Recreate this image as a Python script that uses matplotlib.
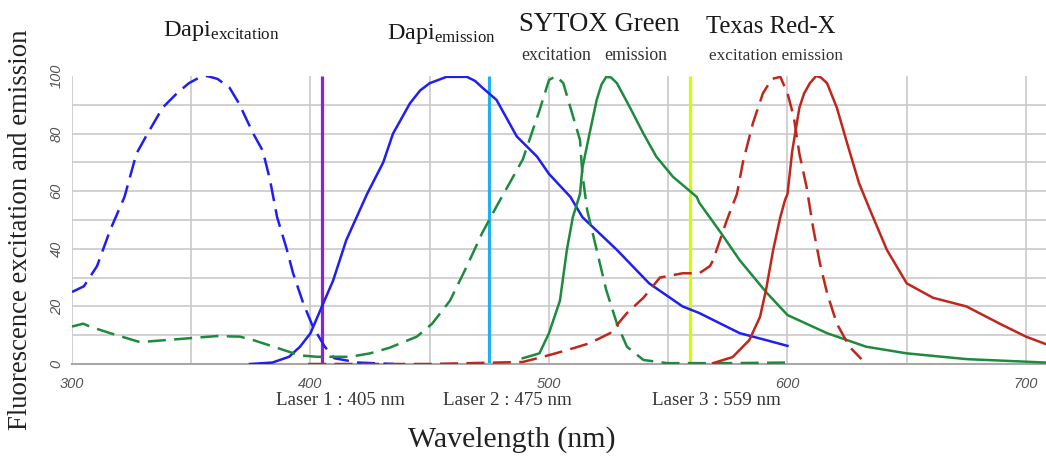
import numpy as np
import matplotlib as mpl
mpl.use("Agg")
import matplotlib.pyplot as plt
from matplotlib.transforms import blended_transform_factory

mpl.rcParams['font.family'] = 'serif'
mpl.rcParams['font.serif'] = ['Liberation Serif', 'DejaVu Serif']
mpl.rcParams['mathtext.fontset'] = 'custom'
mpl.rcParams['mathtext.rm'] = 'Liberation Serif'
mpl.rcParams['mathtext.it'] = 'Liberation Serif:italic'
mpl.rcParams['lines.scale_dashes'] = False

# ---------------- data (wavelength nm, relative intensity %) ----------------
dapi_ex_wl = [300, 305, 310.5, 316, 322, 327, 331, 338, 344, 349, 353, 356.6, 361, 366,
              370, 376, 380, 383, 386, 390, 392.7, 397, 401, 406, 410, 420, 435]
dapi_ex_val = [25, 27, 34, 46.5, 58, 73, 79, 89, 94, 97.5, 99.3, 100, 99, 96,
               90.5, 80, 74, 64, 51, 40, 31.5, 21, 13, 6, 2, 0.5, 0]

dapi_em_wl = [374.6, 384, 391, 395.6, 400, 404.8, 409.5, 415, 423.7, 430.5, 434.6, 441.7,
              446, 450, 457, 465.6, 469, 472, 478, 486.5, 495, 500, 509, 514, 528.5, 542,
              556, 563, 580, 591, 600]
dapi_em_val = [0, 0.5, 2.5, 6, 10.7, 20, 29, 43, 59, 70, 80, 90.5,
               95, 97.5, 99.7, 99.7, 98.3, 96, 91.7, 79, 72, 66, 58, 51, 39.6, 28,
               20, 17.7, 10.7, 8.3, 6.3]

sytox_ex_wl = [300, 304.7, 307.5, 316, 328.5, 344, 360.8, 370.4, 376, 386, 395.6, 402.7,
               416.6, 425, 433, 444.6, 451, 458.5, 465.6, 472, 478, 489, 496, 500, 503,
               506, 509, 513, 514, 516, 520, 524, 528.5, 532.7, 539.6, 549.5, 575, 600]
sytox_ex_val = [13, 14, 13, 10.7, 7.6, 8.6, 9.7, 9.5, 8.3, 5.6, 3, 2.5,
                2.5, 3.7, 5.6, 9.5, 14, 22, 34, 45.5, 54.7, 71, 88, 98.6, 100,
                97.5, 89, 77.8, 66, 53.5, 39.6, 25.7, 14, 6, 1.4, 0.3, 0.3, 0.5]

sytox_em_wl = [489, 496, 500, 504.6, 507.5, 510, 513, 514, 517, 520, 522, 524, 526, 528.5,
               534, 539.6, 545, 552, 562, 563, 571.7, 580, 591, 600, 616.6, 633, 650, 675,
               700, 708]
sytox_em_val = [2, 3.7, 10.7, 22, 39.6, 51, 59, 68, 80, 91.7, 97, 99.7, 99.5, 97.5,
                89, 80, 72, 65, 58, 56, 46, 36, 25, 17, 10.7, 6, 3.7, 1.7,
                0.8, 0.5]

texas_ex_wl = [399, 407, 450, 489, 497.5, 507.5, 517, 525.6, 532.7, 539.6, 546.5, 556,
               563, 567.5, 568.8, 574.6, 578.8, 581.3, 585.5, 589.7, 593.5, 597, 600,
               602.6, 605, 608, 610.7, 613.6, 616.6, 620.7, 626, 631]
texas_ex_val = [0, 0, 0, 0.7, 2.5, 4.8, 7.2, 10.7, 17.7, 23, 30, 31.5,
                31.5, 34, 36, 50, 59, 70, 83.6, 94, 99, 99.7, 94,
                86, 73, 61.5, 47.6, 35, 24.6, 14, 6, 1.7]

texas_em_wl = [568.8, 577, 584, 588.5, 591, 594, 597, 599, 600, 602, 605, 607, 609.4, 612,
               614, 616.6, 620.7, 625, 630, 634.6, 641.7, 650, 661, 668, 675, 689, 700, 708]
texas_em_val = [0.3, 2.4, 8.3, 16.4, 25.7, 39.6, 51, 57, 59, 74, 89, 94, 97.5, 100,
                99.5, 97.5, 89, 76.7, 62.8, 53.5, 39.6, 28, 23, 21.5, 20, 14, 9.5, 7]

laser_nm = [405, 475, 559]
laser_colors = ["#8f1fe0", "#1fb0f4", "#ccff00"]
laser_labels = ["Laser 1 : 405 nm", "Laser 2 : 475 nm", "Laser 3 : 559 nm"]
laser_label_x = [412.5, 482.5, 570]

C_BLUE = "#1f1ff2"
C_GREEN = "#1e8a3e"
C_RED = "#c0271c"

# ---------------- figure ----------------
fig = plt.figure(figsize=(10.46, 4.57), dpi=100)
ax = fig.add_axes([72 / 1046, 1 - 364 / 457, 1 - 72 / 1046, 288 / 457])

GRID_C = "#c9c9c9"
for yv in range(10, 100, 10):
    ax.axhline(yv, color=GRID_C, lw=1.2, zorder=0)
for xv in range(300, 701, 50):
    ax.axvline(xv, color=GRID_C, lw=1.2, zorder=0)

lw = 1.8
dash = (13, 6)
ax.plot(dapi_ex_wl, dapi_ex_val, color=C_BLUE, lw=lw, dashes=dash, zorder=3)
ax.plot(dapi_em_wl, dapi_em_val, color=C_BLUE, lw=lw, zorder=3)
ax.plot(sytox_ex_wl, sytox_ex_val, color=C_GREEN, lw=lw, dashes=dash, zorder=3)
ax.plot(sytox_em_wl, sytox_em_val, color=C_GREEN, lw=lw, zorder=3)
ax.plot(texas_ex_wl, texas_ex_val, color=C_RED, lw=lw, dashes=dash, zorder=3)
ax.plot(texas_em_wl, texas_em_val, color=C_RED, lw=lw, zorder=3)

ax.vlines(laser_nm, 0, 100, colors=laser_colors, lw=2.3, zorder=2)

ax.set_xlim(300, 708.4)
ax.set_ylim(0, 100)
ax.set_xticks([300, 400, 500, 600, 700])
ax.set_yticks([0, 20, 40, 60, 80, 100])
for lab in ax.get_xticklabels() + ax.get_yticklabels():
    lab.set_fontfamily("Liberation Sans")
    lab.set_fontstyle("italic")
    lab.set_color("#555555")
    lab.set_fontsize(10.5)
for lab in ax.get_yticklabels():
    lab.set_rotation(90)
    lab.set_va("center")
ax.tick_params(axis="x", length=0, pad=9)
ax.tick_params(axis="y", length=0, pad=6)

for s in ["top", "right", "left"]:
    ax.spines[s].set_visible(False)
ax.spines["bottom"].set_color("#a8a8a8")
ax.spines["bottom"].set_linewidth(1.5)

ax.set_xlabel("Wavelength (nm)", fontsize=21.5, color="#222222")
ax.xaxis.set_label_coords(0.452, -0.215)
ax.set_ylabel("Fluorescence excitation and emission", fontsize=19.3, color="#222222")
ax.yaxis.set_label_coords(-0.040, 0.465)

trans = blended_transform_factory(ax.transData, ax.transAxes)
for lx, lab in zip(laser_label_x, laser_labels):
    ax.text(lx, -0.128, lab, transform=trans, ha="center", va="center",
            fontsize=13.7, color="#333333")

# ---------------- dye headings ----------------
TC = "#1a1a1a"
fig.text(163 / 1046, 1 - 36 / 457, r"Dapi$_{\mathrm{excitation}}$", fontsize=17.6,
         color=TC, ha="left", va="baseline")
fig.text(387 / 1046, 1 - 39 / 457, r"Dapi$_{\mathrm{emission}}$", fontsize=17.4,
         color=TC, ha="left", va="baseline")
fig.text(519 / 1046, 1 - 31 / 457, "SYTOX Green", fontsize=19.3, color=TC,
         ha="left", va="baseline")
fig.text(521 / 1046, 1 - 60 / 457, "excitation", fontsize=12.8, color="#333333",
         ha="left", va="baseline")
fig.text(604 / 1046, 1 - 60 / 457, "emission", fontsize=12.8, color="#333333",
         ha="left", va="baseline")
fig.text(706 / 1046, 1 - 33 / 457, "Texas Red-X", fontsize=17.8, color=TC,
         ha="left", va="baseline")
fig.text(709 / 1046, 1 - 60 / 457, "excitation emission", fontsize=12.4,
         color="#333333", ha="left", va="baseline")

fig.savefig("out.png", dpi=100)
plt.close(fig)
